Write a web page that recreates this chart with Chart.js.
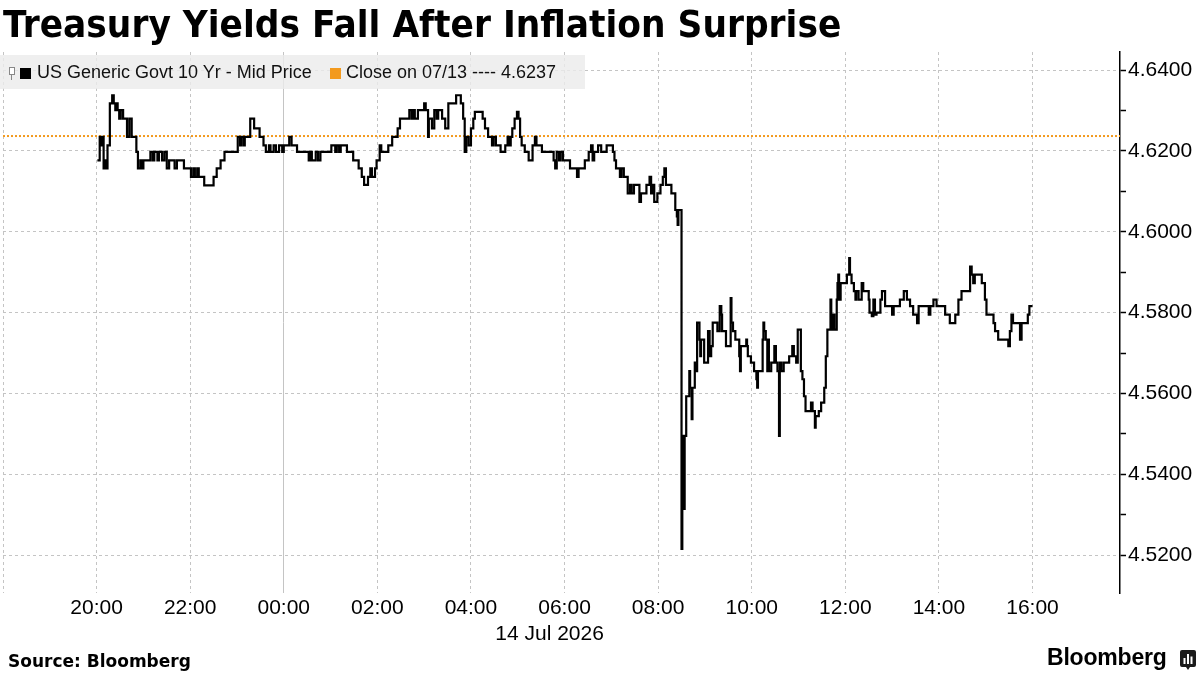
<!DOCTYPE html>
<html>
<head>
<meta charset="utf-8">
<script src="https://cdn.jsdelivr.net/npm/chart.js@4.4.0/dist/chart.umd.min.js"></script>
<style>
  body { margin: 0; background: #fff; }
  #page { position: relative; width: 1200px; height: 675px; overflow: hidden; background: #fff; }
  #chart { position: absolute; left: 0; top: 0; }
  #title { position: absolute; left: 3px; top: 2px; font-family: "DejaVu Sans", sans-serif; font-weight: bold;
           font-size: 38px; color: #000; white-space: nowrap; transform-origin: 0 0; }
  #legend { position: absolute; left: 0; top: 55px; width: 585px; height: 34px; background: rgba(236,236,236,0.82);
            font-family: "Liberation Sans", Arial, sans-serif; font-size: 18px; color: #111; }
  #legend span { position: absolute; top: 7px; white-space: nowrap; }
  .sq { position: absolute; width: 11px; height: 11px; top: 13px; }
  #candle { position: absolute; left: 9px; top: 12px; width: 4px; height: 6px; border: 1px solid #888; background: #fff; }
  #wick { position: absolute; left: 11px; top: 20px; width: 1px; height: 5px; background: #888; }
  #source { position: absolute; left: 8px; top: 651px; font-family: "DejaVu Sans", sans-serif; font-weight: bold;
            font-size: 17px; color: #000; white-space: nowrap; }
  #brand { position: absolute; left: 1047px; top: 644px; font-family: "Liberation Sans", Arial, sans-serif; font-weight: bold;
           font-size: 23px; color: #000; letter-spacing: -0.2px; }
  #logo { position: absolute; left: 1180px; top: 650px; }
</style>
</head>
<body>
<div id="page">
  <canvas id="chart" width="1200" height="675"></canvas>
  <div id="title">Treasury Yields Fall After Inflation Surprise</div>
  <div id="legend">
    <div id="candle"></div><div id="wick"></div>
    <div class="sq" style="left:20px; background:#000;"></div>
    <span id="lab1" style="left:37px;"></span>
    <div class="sq" style="left:330px; background:#f39a1e;"></div>
    <span id="lab2" style="left:346px;"></span>
  </div>
  <div id="source">Source: Bloomberg</div>
  <div id="brand">Bloomberg</div>
  <svg id="logo" width="16" height="20" viewBox="0 0 16 20">
    <path d="M2 0 H14 A2 2 0 0 1 16 2 V15 A2 2 0 0 1 14 17 H10 L8 20 L6 17 H2 A2 2 0 0 1 0 15 V2 A2 2 0 0 1 2 0 Z" fill="#1a1a1a"/>
    <rect x="3.5" y="8" width="2" height="6" fill="#fff"/>
    <rect x="7" y="4" width="2" height="10" fill="#fff"/>
    <rect x="10.5" y="6.5" width="2" height="7.5" fill="#fff"/>
  </svg>
</div>
<script>
// US 10y yield, 13 Jul 20:00 to 14 Jul 16:00 (New York time)
const times = [
  '20:01','20:04','20:05','20:07','20:09','20:11','20:12','20:14','20:17','20:20',
  '20:22','20:24','20:25','20:27','20:29','20:31','20:34','20:39','20:42','20:45',
  '20:51','20:53','20:56','20:58','21:00','21:09','21:12','21:14','21:18','21:20',
  '21:24','21:27','21:30','21:33','21:40','21:43','21:52','22:01','22:04','22:06',
  '22:09','22:11','22:18','22:30','22:34','22:39','22:44','23:01','23:04','23:05',
  '23:08','23:10','23:17','23:22','23:29','23:34','23:37','23:41','23:43','23:47',
  '23:50','23:54','23:58',
  '00:00','00:07','00:10','00:17','00:32','00:34','00:36','00:41','00:44','00:47',
  '01:01','01:06','01:08','01:11','01:13','01:21','01:29','01:36','01:40','01:43',
  '01:48','01:51','01:53','01:57','01:59','02:03','02:05','02:14','02:19','02:26',
  '02:29','02:41','02:44','02:46','02:48','02:52','03:00','03:02','03:05','03:06',
  '03:10','03:13','03:16','03:18','03:23','03:27','03:31','03:41','03:47','03:50',
  '03:52','03:54','03:57','04:00','04:03',
  '04:05','04:15','04:18','04:22','04:27','04:29','04:32','04:38','04:44','04:47',
  '04:49','04:51','04:53','04:56','04:59','05:01','05:03','05:05','05:09','05:14',
  '05:19','05:22','05:24','05:31','05:46','05:48','05:50','05:53','05:55','05:58',
  '06:07','06:16','06:18','06:26','06:31','06:34','06:36','06:38','06:43','06:47',
  '06:54','07:02','07:04','07:06','07:11','07:13','07:16','07:21','07:24','07:26',
  '07:29','07:36','07:38','07:45','07:49','07:51','07:53','07:55','07:59','08:03',
  '08:06','08:08','08:10','08:17','08:22','08:24','08:25','08:26',
  '08:30','08:31','08:32','08:33','08:34','08:36','08:40','08:41','08:43','08:44',
  '08:47','08:48','08:50','08:53','08:54','08:55','08:59','09:04','09:06','09:08',
  '09:10','09:16','09:19','09:21','09:22','09:27','09:33','09:34','09:36','09:39',
  '09:44','09:45','09:46','09:53','09:54','09:55','09:59','10:03','10:06','10:07',
  '10:08','10:14','10:15','10:16','10:18','10:20','10:21','10:22','10:25','10:29',
  '10:31','10:33','10:35','10:36','10:38','10:41','10:48','10:52','10:54','10:57',
  '10:59','11:03','11:05','11:07','11:09','11:16','11:18','11:21','11:22','11:26',
  '11:29','11:33','11:35','11:37',
  '11:41','11:42','11:43','11:44','11:46','11:49','11:50','11:51','11:52','11:54',
  '12:02','12:05','12:06','12:08','12:11','12:13','12:14','12:17','12:21','12:23',
  '12:30','12:31','12:34','12:36','12:38','12:40','12:45','12:47','12:51','13:00',
  '13:02','13:10','13:15','13:19','13:23','13:27','13:32','13:34','13:47','13:49',
  '13:53','13:57','14:08','14:14','14:21','14:25','14:29','14:40','14:42','14:44',
  '14:46','14:55','14:59','15:01','15:10','15:12','15:16','15:29','15:31','15:33',
  '15:35','15:44','15:46','15:54','15:56','16:00'
];
const yields = [
  4.6177,4.6235,4.6214,4.6235,4.6157,4.6177,4.6157,4.6214,4.6318,4.6338,
  4.6318,4.6301,4.6318,4.6301,4.6280,4.6301,4.6280,4.6235,4.6280,4.6235,
  4.6198,4.6157,4.6177,4.6157,4.6177,4.6198,4.6177,4.6198,4.6177,4.6198,
  4.6177,4.6198,4.6157,4.6177,4.6157,4.6177,4.6157,4.6136,4.6157,4.6136,
  4.6157,4.6136,4.6115,4.6136,4.6157,4.6177,4.6198,4.6235,4.6214,4.6235,
  4.6214,4.6235,4.6280,4.6256,4.6235,4.6214,4.6198,4.6214,4.6198,4.6214,
  4.6198,4.6214,4.6198,
  4.6214,4.6235,4.6214,4.6198,4.6177,4.6198,4.6177,4.6198,4.6177,4.6198,
  4.6214,4.6198,4.6214,4.6198,4.6214,4.6198,4.6177,4.6157,4.6136,4.6116,
  4.6136,4.6157,4.6136,4.6157,4.6177,4.6214,4.6198,4.6214,4.6235,4.6256,
  4.6280,4.6301,4.6280,4.6301,4.6280,4.6301,4.6318,4.6301,4.6235,4.6280,
  4.6256,4.6301,4.6280,4.6301,4.6280,4.6256,4.6318,4.6338,4.6318,4.6280,
  4.6198,4.6235,4.6214,4.6256,4.6280,
  4.6297,4.6280,4.6256,4.6235,4.6214,4.6235,4.6214,4.6198,4.6214,4.6235,
  4.6214,4.6235,4.6256,4.6280,4.6297,4.6280,4.6235,4.6214,4.6198,4.6177,
  4.6214,4.6235,4.6214,4.6198,4.6177,4.6157,4.6198,4.6177,4.6198,4.6177,
  4.6157,4.6136,4.6157,4.6177,4.6198,4.6214,4.6177,4.6198,4.6214,4.6198,
  4.6214,4.6198,4.6177,4.6157,4.6136,4.6157,4.6136,4.6095,4.6116,4.6095,
  4.6116,4.6074,4.6095,4.6116,4.6136,4.6095,4.6116,4.6074,4.6095,4.6116,
  4.6136,4.6157,4.6116,4.6095,4.6054,4.6038,4.6017,4.6054,
  4.5215,4.5314,4.5495,4.5314,4.5495,4.5593,4.5655,4.5614,4.5536,4.5614,
  4.5676,4.5655,4.5775,4.5733,4.5692,4.5733,4.5676,4.5754,4.5692,4.5717,
  4.5775,4.5754,4.5816,4.5795,4.5754,4.5717,4.5836,4.5775,4.5754,4.5733,
  4.5692,4.5655,4.5717,4.5733,4.5717,4.5692,4.5676,4.5655,4.5635,4.5614,
  4.5655,4.5733,4.5775,4.5754,4.5733,4.5655,4.5733,4.5655,4.5676,4.5717,
  4.5676,4.5655,4.5495,4.5676,4.5655,4.5676,4.5692,4.5717,4.5692,4.5676,
  4.5758,4.5655,4.5635,4.5593,4.5556,4.5577,4.5556,4.5515,4.5544,4.5556,
  4.5577,4.5614,4.5692,4.5758,
  4.5832,4.5795,4.5758,4.5795,4.5758,4.5832,4.5873,4.5894,4.5832,4.5873,
  4.5894,4.5935,4.5894,4.5873,4.5853,4.5832,4.5853,4.5832,4.5873,4.5853,
  4.5832,4.5800,4.5791,4.5832,4.5795,4.5800,4.5832,4.5853,4.5816,4.5795,
  4.5816,4.5832,4.5853,4.5832,4.5816,4.5795,4.5774,4.5816,4.5795,4.5816,
  4.5832,4.5816,4.5795,4.5774,4.5795,4.5832,4.5853,4.5914,4.5894,4.5873,
  4.5894,4.5873,4.5832,4.5795,4.5774,4.5754,4.5733,4.5717,4.5754,4.5795,
  4.5774,4.5733,4.5774,4.5795,4.5816,4.5816
];
const closeValue = 4.6237;
const seriesLabel = 'US Generic Govt 10 Yr - Mid Price';
const closeLabel = 'Close on 07/13 ---- 4.6237';
const dateLabel = '14 Jul 2026';
const dateLabelAt = 29.68;           // hours from 13 Jul 00:00, where the date sits
const xTickHours = [18, 20, 22, 24, 26, 28, 30, 32, 34, 36, 38, 40];
const xRange = [18, 41.87];
const yRange = [4.5106, 4.6445];

document.getElementById('lab1').textContent = seriesLabel;
document.getElementById('lab2').textContent = closeLabel;

// title is a heavy condensed face in the original, squeeze DejaVu to the same width
const title = document.getElementById('title');
title.style.transform = 'scaleX(' + (838 / title.offsetWidth) + ')';

function toHours(t) {
  const [h, m] = t.split(':').map(Number);
  return h + m / 60 + (h < 18 ? 24 : 0);
}
function pad(n) { return (n < 10 ? '0' : '') + n; }
function isMajor(v) { return Math.round(v * 100) % 2 === 0; }

const tickFont = { family: '"Liberation Sans", Arial, sans-serif', size: 21 };

const dateText = {
  id: 'dateText',
  afterDraw(chart) {
    const c = chart.ctx, xs = chart.scales.x;
    c.save();
    c.font = '21px "Liberation Sans", Arial, sans-serif';
    c.fillStyle = '#000';
    c.textAlign = 'center';
    c.textBaseline = 'middle';
    c.fillText(dateLabel, xs.getPixelForValue(dateLabelAt), 634);
    c.restore();
  }
};

new Chart(document.getElementById('chart'), {
  type: 'line',
  data: {
    datasets: [
      {
        label: seriesLabel,
        data: times.map((t, i) => ({ x: toHours(t), y: yields[i] })),
        borderColor: '#000',
        borderWidth: 2.2,
        pointRadius: 0,
        stepped: true,
        order: 0
      },
      {
        label: closeLabel,
        data: [{ x: xRange[0], y: closeValue }, { x: xRange[1], y: closeValue }],
        borderColor: '#f39a1e',
        borderWidth: 2,
        borderDash: [2, 2],
        pointRadius: 0,
        order: 1
      }
    ]
  },
  options: {
    responsive: false,
    animation: false,
    layout: { padding: { top: 52, left: 0, right: 0, bottom: 0 } },
    plugins: { legend: { display: false }, tooltip: { enabled: false } },
    scales: {
      x: {
        type: 'linear',
        min: xRange[0],
        max: xRange[1],
        afterBuildTicks: s => { s.ticks = xTickHours.map(v => ({ value: v })); },
        afterFit: s => { s.height = 82; },
        ticks: {
          autoSkip: false,
          maxRotation: 0,
          padding: 3,
          color: '#000',
          font: tickFont,
          callback: v => v === xRange[0] ? '' : pad(v % 24) + ':00'
        },
        grid: { color: '#c4c4c4', lineWidth: 1, drawTicks: false },
        border: { display: false, dash: c => (c.tick && c.tick.value === 24) ? [] : [3, 3] }
      },
      y: {
        position: 'right',
        min: yRange[0],
        max: yRange[1],
        afterFit: s => { s.width = 80; },
        ticks: {
          stepSize: 0.01,
          includeBounds: false,
          padding: 2,
          color: '#000',
          font: tickFont,
          callback: v => isMajor(v) ? v.toFixed(4) : ''
        },
        grid: {
          color: c => (c.tick && isMajor(c.tick.value)) ? '#c4c4c4' : 'rgba(0,0,0,0)',
          lineWidth: 1,
          drawTicks: true,
          tickLength: 6,
          tickColor: '#000',
          tickWidth: 1.5
        },
        border: { display: true, color: '#000', width: 1.5, dash: [3, 3] }
      }
    }
  },
  plugins: [dateText]
});
</script>
</body>
</html>
